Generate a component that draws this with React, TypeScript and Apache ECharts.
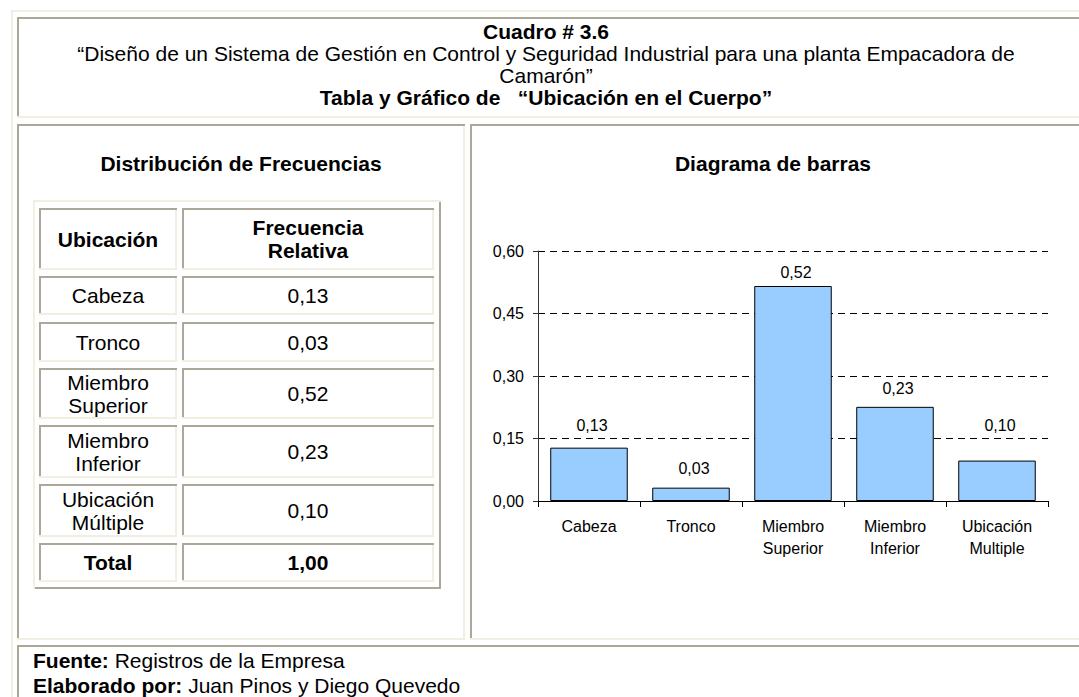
import React, { useEffect, useRef } from 'react';
import * as echarts from 'echarts';

// ---------- data ----------
const headerTitle = 'Cuadro # 3.6';
const headerLines = [
  '“Diseño de un Sistema de Gestión en Control y Seguridad Industrial para una planta Empacadora de',
  'Camarón”',
];
const headerSubtitle = 'Tabla y Gráfico de   “Ubicación en el Cuerpo”';
const tableTitle = 'Distribución de Frecuencias';
const chartTitle = 'Diagrama de barras';
const tableHeaders = ['Ubicación', 'Frecuencia\nRelativa'];
const tableLabels = ['Cabeza', 'Tronco', 'Miembro\nSuperior', 'Miembro\nInferior', 'Ubicación\nMúltiple'];
const totalLabel = 'Total';
const chartCategories = ['Cabeza', 'Tronco', 'Miembro\nSuperior', 'Miembro\nInferior', 'Ubicación\nMultiple'];
const relFreq = [0.128, 0.032, 0.516, 0.226, 0.097];
const yMin = 0;
const yMax = 0.6;
const yStep = 0.15;
const footerLabels = ['Fuente:', 'Elaborado por:'];
const footerTexts = ['Registros de la Empresa', 'Juan Pinos y Diego Quevedo'];

// ---------- style ----------
const FONT = '"Liberation Sans", Arial, Helvetica, sans-serif';
const LIGHT = '#F1EFE2';
const DARK = '#ACA899';
const BODY_SIZE = 21;
const labelGap = [14, 11, 6, 10, 27]; // gap between each bar top and its value label (style)

const fmt = (v: number) => v.toFixed(2).replace('.', ',');

function rect(x: number, y: number, w: number, h: number, fill: string) {
  return { type: 'rect', silent: true, shape: { x, y, width: w, height: h }, style: { fill } };
}
function inset(x1: number, y1: number, x2: number, y2: number) {
  return [
    rect(x1, y1, x2 - x1, 2, DARK),
    rect(x1, y1, 2, y2 - y1, DARK),
    rect(x1, y2 - 2, x2 - x1, 2, LIGHT),
    rect(x2 - 2, y1 + 2, 2, y2 - y1 - 2, LIGHT),
  ];
}
function outset(x1: number, y1: number, x2: number, y2: number) {
  return [
    rect(x1, y1, x2 - x1, 2, LIGHT),
    rect(x1, y1, 2, y2 - y1, LIGHT),
    rect(x1 + 2, y2 - 2, x2 - x1 - 2, 2, DARK),
    rect(x2 - 2, y1 + 2, 2, y2 - y1 - 2, DARK),
  ];
}
function txt(x: number, y: number, text: string, opts: any = {}) {
  const align = opts.align || 'center';
  return {
    type: 'text',
    silent: true,
    x,
    y,
    style: {
      text,
      fontSize: opts.fontSize || BODY_SIZE,
      fontFamily: FONT,
      fontWeight: opts.bold ? 'bold' : 'normal',
      fill: '#000',
      align,
      textAlign: align,
      verticalAlign: 'middle',
      textVerticalAlign: 'middle',
      lineHeight: opts.lineHeight || 24,
      rich: opts.rich,
    },
  };
}

function buildGraphic() {
  const els: any[] = [];
  els.push(...outset(11, 10, 1095, 720));
  els.push(...inset(17, 17, 1085, 118));
  els.push(...inset(17, 124, 465, 640));
  els.push(...inset(470, 124, 1085, 640));
  els.push(...inset(17, 645, 1085, 715));

  const hx = 546;
  els.push(txt(hx, 31, headerTitle, { bold: true }));
  els.push(txt(hx, 53, headerLines[0]));
  els.push(txt(hx, 75, headerLines[1]));
  els.push(txt(hx, 97, headerSubtitle, { bold: true }));

  els.push(txt(241, 163, tableTitle, { bold: true }));
  els.push(txt(773, 163, chartTitle, { bold: true }));

  els.push(...outset(33, 200, 441, 589));
  const cols = [[39, 177], [182, 434]];
  const rows = [[208, 270], [276, 315], [322, 362], [368, 419], [425, 478], [484, 537], [543, 582]];
  const total = relFreq.reduce((a, b) => a + b, 0);
  const cellTexts: { t: string; bold: boolean }[][] = [
    [{ t: tableHeaders[0], bold: true }, { t: tableHeaders[1], bold: true }],
    ...tableLabels.map((l, i) => [{ t: l, bold: false }, { t: fmt(relFreq[i]), bold: false }]),
    [{ t: totalLabel, bold: true }, { t: fmt(total), bold: true }],
  ];
  rows.forEach((r, ri) => {
    cols.forEach((c, ci) => {
      els.push(...inset(c[0], r[0], c[1], r[1]));
      const cell = cellTexts[ri][ci];
      els.push(txt((c[0] + c[1]) / 2, (r[0] + r[1]) / 2, cell.t, { bold: cell.bold, lineHeight: 23 }));
    });
  });

  footerLabels.forEach((lab, i) => {
    els.push(
      txt(33, 660 + i * 25, `{b|${lab}} ${footerTexts[i]}`, {
        align: 'left',
        rich: { b: { fontWeight: 'bold', fontSize: BODY_SIZE, fontFamily: FONT, fill: '#000' } },
      })
    );
  });
  return els;
}

export default function App() {
  const ref = useRef<HTMLDivElement>(null);
  useEffect(() => {
    if (!ref.current) return;
    const chart = echarts.init(ref.current, null, { renderer: 'svg' });
    chart.setOption({
      animation: false,
      backgroundColor: '#ffffff',
      textStyle: { fontFamily: FONT },
      grid: { left: 538, top: 251, width: 510, height: 250, containLabel: false },
      xAxis: {
        type: 'category',
        data: chartCategories,
        axisLine: { lineStyle: { color: '#000', width: 1 } },
        axisTick: { show: true, length: 6, lineStyle: { color: '#000' } },
        axisLabel: { color: '#000', fontSize: 16, lineHeight: 22, margin: 14, interval: 0, fontFamily: FONT },
      },
      yAxis: {
        type: 'value',
        min: yMin,
        max: yMax,
        interval: yStep,
        axisLine: { show: true, lineStyle: { color: '#333', width: 1 } },
        axisTick: { show: true, length: 5, lineStyle: { color: '#333' } },
        axisLabel: { formatter: (v: number) => fmt(v), fontSize: 16, color: '#000', margin: 14, fontFamily: FONT },
        splitLine: { show: true, lineStyle: { type: [7, 5], color: '#000', width: 1 } },
      },
      series: [
        {
          type: 'bar',
          data: relFreq.map((v, i) => ({ value: v, label: { distance: labelGap[i] } })),
          barCategoryGap: '24%',
          itemStyle: { color: '#99CCFF', borderColor: '#000', borderWidth: 1 },
          label: {
            show: true,
            position: 'top',
            distance: 11,
            offset: [3, 0],
            formatter: (p: any) => fmt(p.value),
            fontSize: 16,
            color: '#000',
            fontFamily: FONT,
          },
        },
      ],
      graphic: { elements: buildGraphic() },
    });
    return () => chart.dispose();
  }, []);
  return (
    <div
      ref={ref}
      style={{ position: 'absolute', left: 0, top: 0, width: 1079, height: 697, background: '#fff' }}
    />
  );
}
